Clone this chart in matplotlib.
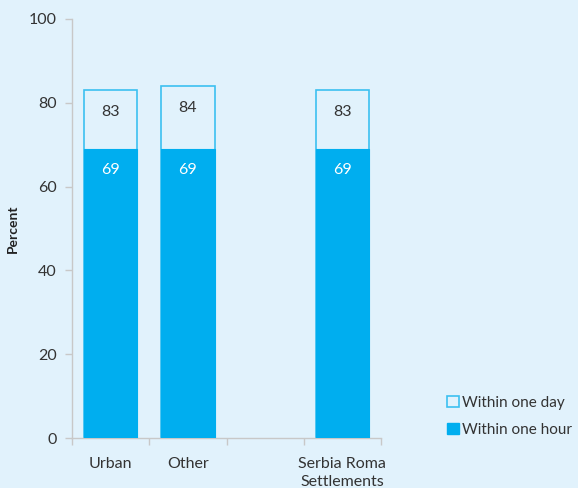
import matplotlib
matplotlib.use("Agg")
import matplotlib.pyplot as plt
from matplotlib.patches import Patch

categories = ["Urban", "Other", "", "Serbia Roma\nSettlements"]
within_hour = [69, 69, None, 69]
within_day = [83, 84, None, 83]
hour_labels = ["69", "69", "", "69"]
day_labels = ["83", "84", "", "83"]
yticks = [0, 20, 40, 60, 80, 100]

BG = "#e1f2fc"
BLUE = "#00aeef"
EDGE = "#3cc0f0"
TXT = "#333333"
FS = 11.5

plt.rcParams['font.family'] = ['Lato', 'DejaVu Sans']

fig = plt.figure(figsize=(5.78, 4.88), dpi=100, facecolor=BG)
ax = fig.add_axes([72/578, 50/488, (381-72)/578, (438-19)/488])
ax.set_facecolor(BG)

xs = list(range(len(categories)))
w = 0.69
for x, h, d, hl, dl in zip(xs, within_hour, within_day, hour_labels, day_labels):
    if h is None:
        continue
    ax.bar(x, d, width=w, facecolor=BG, edgecolor=EDGE, linewidth=1.2, zorder=2)
    ax.bar(x, h, width=w, facecolor=BLUE, edgecolor=BLUE, linewidth=0.8, zorder=3)
    ax.annotate(dl, (x, d), xytext=(0, -22), textcoords="offset pixels",
                ha="center", va="center", fontsize=FS, color=TXT, zorder=4)
    ax.annotate(hl, (x, h), xytext=(0, -21), textcoords="offset pixels",
                ha="center", va="center", fontsize=FS, color="white", zorder=4)

ax.set_xlim(-0.5, len(categories) - 0.5)
ax.set_ylim(0, 100)
ax.set_yticks(yticks)
ax.set_yticklabels([str(t) for t in yticks], fontsize=FS, color=TXT)
ax.set_xticks(xs)
ax.set_xticklabels(categories, fontsize=FS, color=TXT, linespacing=1.3)
ax.tick_params(axis="x", length=0, pad=14)
ax.set_xticks([i - 0.5 for i in range(len(categories) + 1)], minor=True)
ax.tick_params(axis="x", which="minor", length=5, color="#c8c8c8", width=1)
ax.tick_params(axis="y", length=5, color="#c8c8c8", width=1, pad=6)

for s in ["top", "right"]:
    ax.spines[s].set_visible(False)
for s in ["left", "bottom"]:
    ax.spines[s].set_color("#c8c8c8")
    ax.spines[s].set_linewidth(1)

ax.set_ylabel("Percent", fontsize=10, fontweight="bold", color="#222222")
ax.yaxis.set_label_coords((19 - 72) / 309, 0.5)

handles = [Patch(facecolor=BG, edgecolor=EDGE, linewidth=1.2, label="Within one day"),
           Patch(facecolor=BLUE, edgecolor=BLUE, label="Within one hour")]
fig.legend(handles=handles, loc="upper left", bbox_to_anchor=(441/578, 1 - 390/488),
           frameon=False, fontsize=11, handlelength=0.75, handleheight=0.75,
           handletextpad=0.25, labelspacing=0.85, borderaxespad=0, labelcolor=TXT)

fig.savefig("out.png", dpi=100, facecolor=BG)
